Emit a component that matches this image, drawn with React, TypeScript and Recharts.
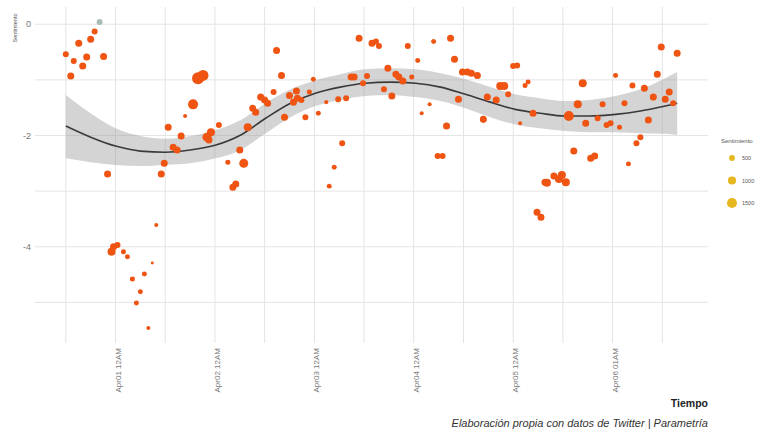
import {
  ComposedChart,
  Scatter,
  Area,
  Line,
  XAxis,
  YAxis,
  ZAxis,
  CartesianGrid,
} from "recharts";

// tiempo en días desde Apr01 12AM
const tiempo = [
  -0.5, -0.45, -0.42, -0.37, -0.33, -0.29, -0.25, -0.21, -0.12, -0.08, -0.04, -0.02, 0.02, 0.08, 0.12,
  0.17, 0.29, 0.25, 0.21, 0.33, 0.37, 0.41, 0.46, 0.49, 0.53, 0.58, 0.62, 0.66, 0.7, 0.78, 0.83, 0.88,
  0.92, 0.96, 0.94, 1.04, 1.13, 1.18, 1.21, 1.25, 1.29, 1.33, 1.38, 1.41, 1.46, 1.5, 1.53, 1.59, 1.62,
  1.67, 1.7, 1.75, 1.79, 1.82, 1.83, 1.87, 1.91, 1.95, 1.99, 2.04, 2.12, 2.15, 2.2, 2.24, 2.28, 2.32,
  2.37, 2.4, 2.45, 2.49, 2.53, 2.58, 2.62, 2.65, 2.7, 2.74, 2.78, 2.82, 2.85, 2.89, 2.94, 2.98, 3.04,
  3.08, 3.16, 3.2, 3.24, 3.29, 3.33, 3.37, 3.41, 3.45, 3.49, 3.54, 3.58, 3.64, 3.7, 3.74, 3.83, 3.87,
  3.91, 3.95, 4.0, 4.04, 4.07, 4.12, 4.15, 4.2, 4.24, 4.28, 4.32, 4.34, 4.41, 4.46, 4.49, 4.53, 4.56,
  4.61, 4.65, 4.7, 4.73, 4.78, 4.82, 4.85, 4.9, 4.94, 4.98, 5.03, 5.07, 5.12, 5.16, 5.2, 5.24, 5.28,
  5.32, 5.36, 5.41, 5.45, 5.49, 5.53, 5.57, 5.61, 5.65,
];

const sentimiento = [
  -0.54, -0.93, -0.66, -0.34, -0.75, -0.59, -0.27, -0.13, -0.58, -2.69, -4.09, -4.0, -3.97, -4.09, -4.18,
  -4.58, -4.49, -4.81, -5.01, -5.46, -4.29, -3.61, -2.69, -2.5, -1.85, -2.21, -2.26, -2.01, -1.65, -1.44,
  -0.97, -0.92, -2.03, -1.94, -2.08, -1.81, -2.48, -2.93, -2.87, -2.26, -2.5, -1.85, -1.51, -1.58, -1.31,
  -1.36, -1.42, -1.22, -0.47, -0.92, -1.67, -1.28, -1.4, -1.2, -1.33, -1.36, -1.67, -1.22, -0.99, -1.6,
  -1.4, -2.91, -2.57, -1.35, -2.14, -1.33, -0.95, -0.95, -0.25, -1.06, -0.93, -0.34, -0.31, -0.39, -1.17,
  -0.79, -1.29, -0.9, -0.95, -1.02, -0.39, -0.95, -0.65, -1.6, -1.44, -0.31, -2.37, -2.37, -1.83, -0.25,
  -0.63, -1.35, -0.86, -0.86, -0.88, -0.92, -1.71, -1.31, -1.36, -1.11, -1.11, -1.26, -0.75, -0.74, -1.78,
  -1.1, -1.04, -1.6, -3.38, -3.47, -2.84, -2.85, -2.73, -2.78, -2.71, -2.84, -1.65, -2.28, -1.44, -1.06,
  -1.78, -2.41, -2.37, -1.69, -1.44, -1.81, -1.78, -0.92, -1.85, -1.42, -2.51, -1.1, -2.14, -2.03, -1.15,
  -1.72, -1.31, -0.9, -0.41, -1.35, -1.22, -1.42, -0.52,
];

const volumen = [
  530, 730, 530, 730, 730, 730, 730, 530, 730, 730, 950, 730, 530, 370, 370,
  370, 370, 370, 370, 240, 130, 240, 730, 730, 730, 730, 730, 730, 240, 1480,
  2130, 1790, 1200, 950, 730, 530, 370, 730, 730, 730, 1200, 950, 730, 730, 730,
  730, 730, 530, 730, 730, 730, 730, 730, 730, 730, 530, 530, 370, 370, 370,
  240, 370, 370, 530, 530, 530, 730, 730, 730, 530, 530, 730, 530, 530, 530,
  730, 730, 730, 730, 730, 530, 370, 370, 240, 240, 370, 530, 530, 730, 730,
  730, 730, 730, 730, 730, 730, 730, 730, 730, 950, 950, 530, 530, 530, 240,
  370, 370, 730, 730, 730, 730, 950, 730, 950, 950, 950, 1480, 730, 950, 950,
  730, 730, 730, 530, 530, 530, 530, 370, 370, 530, 370, 530, 530, 530, 730,
  730, 730, 730, 730, 730, 730, 530, 730,
];

// punto gris aislado
const grisT = [-0.16];
const grisV = [0.04];
const grisN = [530];

// curva suavizada y banda de confianza
const ajusteT = [
  -0.5, -0.25, 0, 0.25, 0.5, 0.75, 1.01, 1.26, 1.51, 1.76, 2.01, 2.26, 2.51, 2.76, 3.02, 3.27, 3.52,
  3.77, 4.02, 4.27, 4.52, 4.77, 5.03, 5.28, 5.53, 5.65,
];
const ajusteV = [
  -1.83, -2.03, -2.19, -2.28, -2.3, -2.26, -2.17, -1.99, -1.69, -1.42, -1.24, -1.13, -1.06, -1.04, -1.06,
  -1.13, -1.26, -1.4, -1.53, -1.6, -1.65, -1.65, -1.62, -1.56, -1.47, -1.42,
];
const bandaAlta = [
  -1.27, -1.6, -1.87, -2.01, -2.06, -2.01, -1.9, -1.72, -1.42, -1.17, -1.01, -0.9, -0.81, -0.79, -0.81,
  -0.88, -0.99, -1.13, -1.26, -1.33, -1.38, -1.36, -1.29, -1.17, -0.97, -0.86,
];
const bandaBaja = [
  -2.41, -2.48, -2.53, -2.55, -2.53, -2.5, -2.41, -2.26, -1.96, -1.67, -1.47, -1.36, -1.29, -1.27, -1.31,
  -1.38, -1.51, -1.67, -1.8, -1.87, -1.92, -1.94, -1.94, -1.96, -1.97, -1.99,
];

const etiquetasX = ["Apr01 12AM", "Apr02 12AM", "Apr03 12AM", "Apr04 12AM", "Apr05 12AM", "Apr06 01AM"];
const ticksX = [-0.5, 0, 0.5, 1, 1.5, 2, 2.5, 3, 3.5, 4, 4.5, 5, 5.5];
const ticksY = [-5, -4, -3, -2, -1, 0];
const leyendaN = [500, 1000, 1500];

const puntos = tiempo.map((t, i) => ({ t, v: sentimiento[i], n: volumen[i] }));
const gris = grisT.map((t, i) => ({ t, v: grisV[i], n: grisN[i] }));
const ajuste = ajusteT.map((t, i) => ({ t, fit: ajusteV[i], lo: bandaBaja[i], hi: bandaAlta[i] }));

const Z_MAX = 2500;
const AREA_MAX = Z_MAX * 0.053;
const radio = (n: number) => Math.sqrt((n / Z_MAX) * AREA_MAX / Math.PI);

const FONT = "'Liberation Sans', Arial, sans-serif";

function XTick({ x, y, payload }: any) {
  const v = payload.value;
  if (Math.abs(v - Math.round(v)) > 1e-6) return <g />;
  return (
    <g transform={`translate(${x},${y})`}>
      <text
        transform="rotate(-90)"
        x={-5}
        y={5}
        textAnchor="end"
        fontSize={8}
        fill="#777"
        fontFamily={FONT}
      >
        {etiquetasX[Math.round(v)]}
      </text>
    </g>
  );
}

export default function App() {
  return (
    <div style={{ position: "absolute", left: 0, top: 0, width: 761, height: 430, background: "#fff" }}>
      <ComposedChart
        width={761}
        height={430}
        margin={{ top: 7, right: 53, bottom: 27, left: 8 }}
        style={{ fontFamily: FONT }}
      >
        <CartesianGrid stroke="#E4E4E4" strokeWidth={1} syncWithTicks />
        <XAxis
          type="number"
          dataKey="t"
          domain={[-0.81, 5.96]}
          ticks={ticksX}
          allowDataOverflow
          axisLine={false}
          tickLine={false}
          tickSize={0}
          tickMargin={0}
          height={60}
          tick={<XTick />}
          interval={0}
        />
        <YAxis
          type="number"
          dataKey="v"
          domain={[-5.73, 0.31]}
          ticks={ticksY}
          allowDataOverflow
          axisLine={false}
          tickLine={false}
          tickSize={0}
          tickMargin={4}
          width={27}
          interval={0}
          tick={{ fontSize: 9, fill: "#777" }}
          tickFormatter={(v: number) => (v % 2 === 0 ? String(v) : "")}
        />
        <ZAxis type="number" dataKey="n" domain={[0, Z_MAX]} range={[0, AREA_MAX]} />
        <Scatter data={puntos} fill="#EF5412" isAnimationActive={false} />
        <Scatter data={gris} fill="#A9BDB7" isAnimationActive={false} />
        <Area
          data={ajuste}
          dataKey={(d: any) => [d.lo, d.hi]}
          type="monotone"
          fill="#999999"
          fillOpacity={0.42}
          stroke="none"
          isAnimationActive={false}
          activeDot={false}
        />
        <Line
          data={ajuste}
          dataKey="fit"
          type="monotone"
          stroke="#3A3A3A"
          strokeWidth={1.6}
          dot={false}
          activeDot={false}
          isAnimationActive={false}
        />
      </ComposedChart>
      <svg
        width={761}
        height={430}
        style={{ position: "absolute", left: 0, top: 0, pointerEvents: "none" }}
        fontFamily={FONT}
      >
        <text transform="rotate(-90, 17, 28)" x={17} y={28} textAnchor="middle" fontSize={5.5} fill="#555">
          Sentimiento
        </text>
        <text x={721} y={143} fontSize={6} fill="#555">
          Sentimiento
        </text>
        {leyendaN.map((n, i) => (
          <g key={n}>
            <circle cx={732} cy={158 + i * 22.5} r={radio(n)} fill="#E6B820" />
            <text x={742} y={160 + i * 22.5} fontSize={5.5} fill="#555">
              {n}
            </text>
          </g>
        ))}
        <text x={708} y={407} textAnchor="end" fontSize={10.5} fontWeight="bold" fill="#222">
          Tiempo
        </text>
        <text x={708} y={427} textAnchor="end" fontSize={11} fontStyle="italic" fill="#333">
          Elaboración propia con datos de Twitter | Parametría
        </text>
      </svg>
    </div>
  );
}
